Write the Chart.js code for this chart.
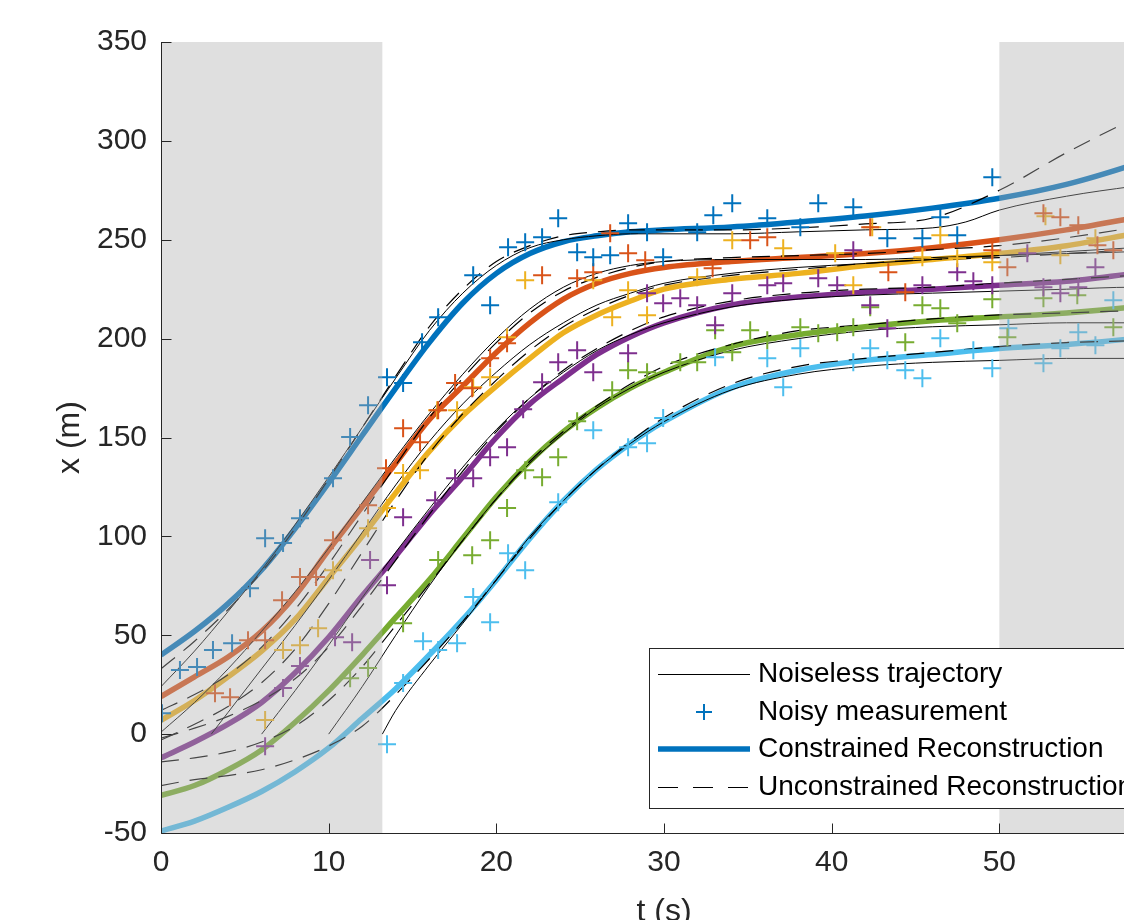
<!DOCTYPE html>
<html><head><meta charset="utf-8">
<script src="https://cdn.jsdelivr.net/npm/chart.js@4.4.1/dist/chart.umd.min.js"></script>
<style>
html,body{margin:0;padding:0;background:#fff;overflow:hidden}
#wrap{width:1124px;height:920px;overflow:hidden;position:relative;background:#fff}
canvas{display:block}
</style>
</head><body><div id="wrap"><canvas id="c" width="1200" height="950"></canvas></div>
<script>
// ---------------- DATA ----------------
const tGrid = [0,2,4,6,8,10,12,14,16,18,20,22,24,26,28,30,34,38,42,46,50,54,58,60];

// Constrained reconstructions (thick coloured lines), values at tGrid
const blueCon   = [40,52,66,83,104,127,151,175,198,218,233,243,249,252,254,255,256.5,259,262,266,271,278,288,294];
const orangeCon = [19,29,39,52,70,93,115,137,159,176,193,208,220,228,233,236,239,241,243,246,250,255,261,264];
const yellowCon = [7,17,29,42,58,79,100,122,143,161,176,190,203,212,219,225,230,233,237,240,243,247,253,256];
const purpleCon = [-12,-4,5,16,31,49,70,90,111,130,150,167,180,192,201,208,217,221,223.5,225,227,229,233,235];
const greenCon  = [-31,-26,-18,-8,6,22,40,59,78,99,120,138,153,165,175,183,196,202,206,209,211,213,216,218];
const lightCon  = [-49,-44,-37,-29,-19,-7,8,23,40,58,78,99,118,134,147,158,175,184,189,192,195,197,200,202];

// Unconstrained reconstructions (dashed), values at tGrid
const blueDash   = [33,47,63,82,104,129,155,181,206,225,239,247,252,254,255,255,255,256,258,261,275,294,311,318];
const orangeDash = [12,20,30,44,63,86,111,136,160,180,198,213,224,231,236,239,241,242,243,245,247,251,256,258];
const yellowDash = [-3,5,14,26,43,66,92,118,142,162,179,194,206,215,222,227,232,235,238,240,241,243,245,246];
const purpleDash = [-2,3,9,17,28,44,65,88,111,133,153,170,184,195,204,211,219,223,225,226,228,230,232,233];
const greenDash  = [-14,-12,-9,-4,4,17,34,55,76,98,119,138,153,166,177,186,197,204,207,210,212,213,214,214];
const lightDash  = [-26,-23,-21,-18,-13,-6,4,20,38,57,78,99,118,134,148,160,177,186,190,193,196,198,199,200];

// Noiseless trajectories (thin solid)
const blueTrueT   = [0,2,4,6,8,10,12,14,16,18,20,22,24,26,28,30,34,38,42,46,48,50,54,58,60];
const blueTrueX   = [24,42,62,83,106,130,155,180,204,223,237,246,250,252,253,253,253,254,255,256,259,265,272,277,279];
const orangeTrueT = [0,2,4,6,8,10,12,14,16,18,20,22,24,26,28,30,34,38,42,46,50,54,58,60];
const orangeTrueX = [1,16,33,52,72,94,117,140,162,182,200,215,226,233,237,239,240,240,240,241,242,243,244,245];
const yellowTrueT = [3,4,6,8,10,12,14,16,18,20,22,24,26,28,30,34,38,42,46,50,54,58,60];
const yellowTrueX = [0,11,33,55,78,102,126,148,167,183,197,208,217,223,228,233,236,238,240,242,244,246,247];
const purpleTrueT = [6,8,10,12,14,16,18,20,22,24,26,28,30,34,38,42,46,50,54,58,60];
const purpleTrueX = [0,22,45,69,92,114,135,154,170,183,194,202,208,216,220,222,223,224,225,226,226];
const greenTrueT  = [10,12,14,16,18,20,22,24,26,28,30,34,38,42,46,50,54,58,60];
const greenTrueX  = [0,24,50,75,98,119,137,152,165,175,183,194,200,204,206,207,208,208,208];
const lightTrueT  = [13.2,14,16,18,20,22,24,26,28,30,34,38,42,46,50,54,58,60];
const lightTrueX  = [0,12,35,56,78,100,118,134,147,158,174,182,186,188,189,190,190,190];

// Noisy measurements (+ markers)
const blueMeasT = [0.06,1.13,2.15,3.10,4.24,5.31,6.21,7.28,8.29,10.26,11.28,12.35,13.48,14.44,15.57,16.53,18.62,19.63,20.70,21.72,22.73,23.69,24.82,25.78,26.79,27.86,28.99,29.95,31.98,32.94,34.07,36.16,38.13,39.20,41.29,43.32,45.41,46.48,47.49,49.58];
const blueMeasX = [10.6,32.4,33.9,42.5,46.0,73.8,99.1,96.6,109.2,129.4,150.2,166.3,180.5,177.5,198.2,210.8,232.1,216.9,246.2,248.7,251.3,260.9,243.7,241.2,242.2,258.3,253.8,241.2,253.8,262.4,268.5,260.9,256.3,268.5,266.4,250.8,250.8,261.4,252.3,281.6];
const orangeMeasT = [3.22,4.12,5.19,6.21,7.22,8.29,9.25,10.26,12.35,13.42,14.44,15.45,16.53,17.54,18.56,19.63,20.64,22.73,24.82,25.78,26.79,27.86,28.88,32.9,35.14,36.16,42.30,43.38,44.39,49.58,50.48,52.63,53.64,54.71,55.85,56.80];
const orangeMeasX = [20.7,18.7,47.5,47.5,67.7,79.4,79.4,98.1,115.8,134.5,154.7,147.6,163.8,177.5,174.9,190.1,197.7,232.1,230.5,233.6,253.3,243.2,239.6,235.6,249.7,251.3,256.3,233.6,223.5,244.7,236.1,263.4,261.4,257.3,247.2,244.7];
const yellowMeasT = [6.21,7.28,8.29,9.37,10.26,12.35,13.48,14.44,15.45,16.47,17.66,18.62,19.63,20.64,21.72,25.78,26.91,27.86,28.99,31.98,34.07,37.11,40.21,41.29,42.42,45.41,46.48,47.49,49.58,52.75,53.64,55.73];
const yellowMeasX = [7.1,42.5,45.0,53.6,82.9,104.1,114.3,132.0,133.5,163.8,163.8,175.4,180.5,200.7,229.5,229.5,210.8,224.5,211.8,231.0,249.7,245.7,243.2,227.0,256.3,241.2,252.3,240.6,238.6,261.9,242.2,250.8];
const purpleMeasT = [6.21,7.28,8.29,10.38,11.40,12.47,13.48,14.44,16.35,17.54,18.62,19.63,20.64,21.60,22.73,23.69,24.82,25.78,27.86,28.99,29.95,30.97,31.98,33.05,34.07,36.16,37.11,39.20,40.33,41.29,42.30,43.32,45.41,47.49,48.45,49.58,51.67,52.63,53.64,54.71,55.73];
const purpleMeasX = [-6.1,23.3,34.4,49.0,46.5,88.0,75.3,109.7,118.3,129.4,129.4,140.0,145.1,164.3,178.0,188.1,194.1,183.0,192.6,223.0,217.9,220.4,216.9,206.8,223.0,227.0,228.0,230.5,227.0,244.7,216.9,205.3,227.0,233.6,229.0,227.0,243.2,226.0,223.0,226.0,236.1];
const greenMeasT = [11.28,12.35,14.44,16.53,18.56,19.63,20.64,21.72,22.73,23.69,24.82,26.91,27.86,28.99,30.97,31.98,33.05,34.07,35.14,36.16,38.13,39.20,40.33,41.29,42.30,44.39,45.41,46.48,47.49,49.58,50.48,52.63,54.65,56.80];
const greenMeasX = [28.3,33.4,56.1,88.0,90.5,98.1,114.3,133.5,129.9,140.0,158.2,173.9,184.0,183.0,188.1,188.1,204.2,193.1,204.2,199.2,205.8,202.7,203.2,205.8,215.9,198.2,216.9,215.4,207.8,219.9,200.7,220.4,221.9,205.8];
const lightMeasT = [13.48,14.44,15.63,16.53,17.66,18.62,19.63,20.70,21.72,23.69,25.78,27.86,28.99,29.95,33.05,36.16,37.11,38.13,41.29,42.30,43.32,44.39,45.41,46.48,48.45,49.58,50.54,52.63,53.64,54.71,55.73,56.80];
const lightMeasX = [-5.1,25.8,47.0,42.5,46.0,69.3,56.6,91.5,82.9,117.3,153.7,145.1,147.1,159.8,190.6,190.1,175.4,195.1,188.1,195.1,189.1,184.0,180.0,200.2,194.1,185.0,205.3,187.6,195.1,203.2,196.7,219.4];

// Unobserved (shaded) intervals in t
const shadedIntervals = [[0,13.2],[50,60]];
const xTicks = [0,10,20,30,40,50,60];
const yTicks = [-50,0,50,100,150,200,250,300,350];
const legendLabels = ['Noiseless trajectory','Noisy measurement','Constrained Reconstruction','Unconstrained Reconstruction'];

// ---------------- STYLES ----------------
const COLORS = ['#0072BD','#D95319','#EDB120','#7E2F8E','#77AC30','#4DBEEE'];
const FONT = '"Liberation Sans", Arial, Helvetica, sans-serif';
const AX = '#262626';

const pts = (ts, xs) => ts.map((t,i) => ({x:t, y:xs[i]}));

const conSets  = [blueCon, orangeCon, yellowCon, purpleCon, greenCon, lightCon];
const dashSets = [blueDash, orangeDash, yellowDash, purpleDash, greenDash, lightDash];
const trueSets = [[blueTrueT,blueTrueX],[orangeTrueT,orangeTrueX],[yellowTrueT,yellowTrueX],[purpleTrueT,purpleTrueX],[greenTrueT,greenTrueX],[lightTrueT,lightTrueX]];
const measSets = [[blueMeasT,blueMeasX],[orangeMeasT,orangeMeasX],[yellowMeasT,yellowMeasX],[purpleMeasT,purpleMeasX],[greenMeasT,greenMeasX],[lightMeasT,lightMeasX]];

const datasets = [];
conSets.forEach((v,i) => datasets.push({
  label:'Constrained', data:pts(tGrid,v), showLine:true, borderColor:COLORS[i],
  borderWidth:5.5, pointRadius:0, cubicInterpolationMode:'monotone', order:3
}));
trueSets.forEach(([t,v]) => datasets.push({
  label:'Noiseless', data:pts(t,v), showLine:true, borderColor:'#000',
  borderWidth:1, pointRadius:0, cubicInterpolationMode:'monotone', order:2
}));
dashSets.forEach(v => datasets.push({
  label:'Unconstrained', data:pts(tGrid,v), showLine:true, borderColor:'#000',
  borderWidth:1.2, borderDash:[18,11], pointRadius:0, cubicInterpolationMode:'monotone', order:2
}));
measSets.forEach(([t,v],i) => datasets.push({
  label:'Measurement', data:pts(t,v), showLine:false, pointStyle:'cross',
  pointRadius:9, pointBorderWidth:2, pointBorderColor:COLORS[i], pointBackgroundColor:COLORS[i], order:1
}));

const shadePlugin = {
  id:'shade',
  afterDatasetsDraw(chart){
    const {ctx, chartArea:ca, scales:{x}} = chart;
    ctx.save();
    ctx.fillStyle = 'rgba(175,175,175,0.4)';
    shadedIntervals.forEach(([a,b]) => {
      const x0 = Math.max(ca.left, x.getPixelForValue(a));
      const x1 = Math.min(ca.right, x.getPixelForValue(b));
      ctx.fillRect(x0, ca.top, x1-x0, ca.bottom-ca.top);
    });
    ctx.restore();
  }
};

const axesPlugin = {
  id:'axesLines',
  afterDraw(chart){
    const {ctx, chartArea:ca, scales:{x,y}} = chart;
    ctx.save();
    ctx.strokeStyle = AX; ctx.lineWidth = 1;
    const L = Math.round(ca.left)+0.5, B = Math.round(ca.bottom)+0.5;
    ctx.beginPath();
    ctx.moveTo(L, ca.top); ctx.lineTo(L, B);
    ctx.lineTo(ca.right, B);
    yTicks.forEach(v => { const p = Math.round(y.getPixelForValue(v))+0.5; ctx.moveTo(L,p); ctx.lineTo(L+10,p); });
    xTicks.forEach(v => { const p = Math.round(x.getPixelForValue(v))+0.5; ctx.moveTo(p,B); ctx.lineTo(p,B-10); });
    ctx.stroke();

    // legend box
    const bx = 649.5, by = 648.5, bw = 500, bh = 160;
    ctx.fillStyle = '#fff';
    ctx.fillRect(bx, by, bw, bh);
    ctx.strokeStyle = AX; ctx.lineWidth = 1;
    ctx.strokeRect(bx, by, bw, bh);
    const rows = [674, 712, 749, 787];
    const sx0 = 658, sx1 = 750;
    ctx.strokeStyle = '#000'; ctx.lineWidth = 1;
    ctx.beginPath(); ctx.moveTo(sx0, rows[0]+0.5); ctx.lineTo(sx1, rows[0]+0.5); ctx.stroke();
    ctx.strokeStyle = COLORS[0]; ctx.lineWidth = 2;
    ctx.beginPath(); ctx.moveTo(704-8, rows[1]); ctx.lineTo(704+8, rows[1]);
    ctx.moveTo(704, rows[1]-8); ctx.lineTo(704, rows[1]+8); ctx.stroke();
    ctx.strokeStyle = COLORS[0]; ctx.lineWidth = 5.5;
    ctx.beginPath(); ctx.moveTo(sx0, rows[2]); ctx.lineTo(sx1, rows[2]); ctx.stroke();
    ctx.strokeStyle = '#000'; ctx.lineWidth = 1.2; ctx.setLineDash([20,15]);
    ctx.beginPath(); ctx.moveTo(sx0, rows[3]+0.5); ctx.lineTo(sx1, rows[3]+0.5); ctx.stroke();
    ctx.setLineDash([]);
    ctx.fillStyle = '#000';
    ctx.font = '28px ' + FONT;
    ctx.textBaseline = 'middle'; ctx.textAlign = 'left';
    legendLabels.forEach((s,i) => ctx.fillText(s, 758, rows[i]));
    ctx.restore();
  }
};

new Chart(document.getElementById('c'), {
  type:'scatter',
  data:{datasets},
  options:{
    responsive:false, animation:false, events:[],
    layout:{padding:{left:0, top:42, right:33, bottom:0}},
    plugins:{legend:{display:false}, tooltip:{enabled:false}},
    scales:{
      x:{
        type:'linear', min:0, max:60,
        grid:{display:false, drawTicks:false}, border:{display:false},
        afterBuildTicks(s){ s.ticks = xTicks.map(v => ({value:v})); },
        ticks:{font:{family:FONT, size:30}, color:AX, padding:12, maxRotation:0, autoSkip:false},
        title:{display:true, text:'t (s)', font:{family:FONT, size:32}, color:AX, padding:{top:0, bottom:19}},
        afterFit(s){ s.height = 117; }
      },
      y:{
        type:'linear', min:-50, max:350,
        grid:{display:false, drawTicks:false}, border:{display:false},
        afterBuildTicks(s){ s.ticks = yTicks.map(v => ({value:v})); },
        ticks:{font:{family:FONT, size:30}, color:AX, padding:14, autoSkip:false},
        title:{display:true, text:'x (m)', font:{family:FONT, size:32}, color:AX, padding:{top:51, bottom:0}},
        afterFit(s){ s.width = 161; }
      }
    }
  },
  plugins:[shadePlugin, axesPlugin]
});
</script></body></html>
